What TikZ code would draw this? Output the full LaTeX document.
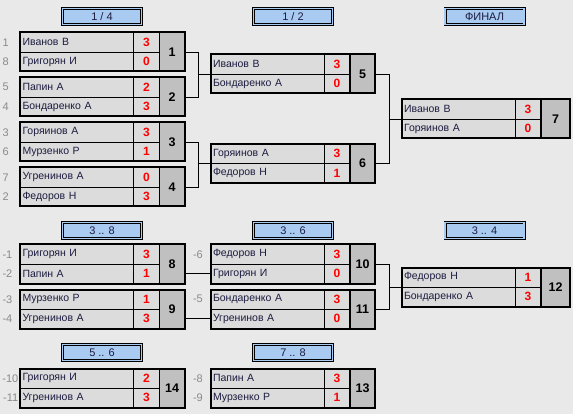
\documentclass[tikz,border=0pt]{standalone}
\usepackage{fontspec}
\setmainfont{Liberation Sans}
\usetikzlibrary{positioning}

\definecolor{bggray}{HTML}{E9E9E9}
\definecolor{cellgray}{HTML}{DCDCDC}
\definecolor{numgray}{HTML}{C0C0C0}
\definecolor{headblue}{HTML}{A9CBF1}
\definecolor{namefg}{HTML}{1C1C40}
\definecolor{seedfg}{HTML}{8A8A8A}

% one match: [number cell width] id, x, y, player 1, score 1, player 2, score 2, match no.
\newcommand{\matchbox}[9][25]{%
  \node[namecell] (#2a) at (#3,#4) {#5};
  \node[scorecell] (#2as) at (#2a.north east) {#6};
  \node[namecell] (#2b) at (#2a.south west) {#7};
  \node[scorecell] (#2bs) at (#2b.north east) {#8};
  \node[numcell, minimum width=#1pt] (#2n) at (#2as.north east) {#9};
  \draw[line width=2pt] (#2a.north west) rectangle (#2n.south east);
}

\begin{document}
\begin{tikzpicture}[
  x=1pt, y=-1pt,
  font=\fontsize{10.5pt}{12pt}\selectfont,
  namecell/.style = {draw, line width=0.6pt, fill=cellgray, anchor=north west,
                     outer sep=0pt, inner sep=2.5pt, text width=108.5pt, align=left,
                     minimum height=19.5pt, text=namefg},
  scorecell/.style = {draw, line width=0.6pt, fill=cellgray, anchor=north west,
                      outer sep=0pt, inner sep=0pt, minimum width=26pt,
                      minimum height=19.5pt, text=red, font=\fontsize{12pt}{13pt}\selectfont\bfseries},
  numcell/.style = {draw, line width=1.6pt, fill=numgray, anchor=north west,
                    outer sep=0pt, inner sep=0pt, minimum height=39pt,
                    font=\fontsize{12.5pt}{14pt}\selectfont\bfseries},
  header/.style = {draw, line width=0.8pt, double=headblue, double distance=1.4pt,
                   fill=headblue, minimum width=79pt, minimum height=16pt,
                   inner sep=0pt, text=namefg, font=\fontsize{11pt}{12pt}\selectfont},
  seed/.style = {text=seedfg, inner sep=0pt, font=\fontsize{11pt}{12pt}\selectfont},
  wire/.style = {line width=0.8pt}
]

\path[use as bounding box, fill=bggray] (0,0) rectangle (573,414);

% Headers
\node[header] (h14) at (102,16.5) {1 / 4};
\node[header] (h12) at (293,16.5) {1 / 2};
\node[header] (hfin) at (484.5,16.5) {ФИНАЛ};
\node[header] (h38) at (102,230.5) {3 .. 8};
\node[header] (h36) at (293,230.5) {3 .. 6};
\node[header] (h34) at (484.5,230.5) {3 .. 4};
\node[header] (h56) at (102,352.5) {5 .. 6};
\node[header] (h78) at (293,352.5) {7 .. 8};

% Main bracket
\matchbox{m1}{20}{32.5}{Иванов В}{3}{Григорян И}{0}{1}
\matchbox{m2}{20}{77.5}{Папин А}{2}{Бондаренко А}{3}{2}
\matchbox{m3}{20}{122.5}{Горяинов А}{3}{Мурзенко Р}{1}{3}
\matchbox{m4}{20}{167.5}{Угренинов А}{0}{Федоров Н}{3}{4}
\matchbox{m5}{210.5}{54.5}{Иванов В}{3}{Бондаренко А}{0}{5}
\matchbox{m6}{210.5}{144}{Горяинов А}{3}{Федоров Н}{1}{6}
\matchbox[29]{m7}{401.5}{99.5}{Иванов В}{3}{Горяинов А}{0}{7}

% Places 3..8
\matchbox{m8}{20}{244.5}{Григорян И}{3}{Папин А}{1}{8}
\matchbox{m9}{20}{289.5}{Мурзенко Р}{1}{Угренинов А}{3}{9}
\matchbox{m10}{210.5}{244.5}{Федоров Н}{3}{Григорян И}{0}{10}
\matchbox{m11}{210.5}{289.5}{Бондаренко А}{3}{Угренинов А}{0}{11}
\matchbox[29]{m12}{401.5}{267.5}{Федоров Н}{1}{Бондаренко А}{3}{12}
\matchbox{m14}{20}{368.5}{Григорян И}{2}{Угренинов А}{3}{14}
\matchbox{m13}{210.5}{368.5}{Папин А}{3}{Мурзенко Р}{1}{13}

% Seeds
\node[seed, left=11pt of m1a] {1};
\node[seed, left=11pt of m1b] {8};
\node[seed, left=11pt of m2a] {5};
\node[seed, left=11pt of m2b] {4};
\node[seed, left=11pt of m3a] {3};
\node[seed, left=11pt of m3b] {6};
\node[seed, left=11pt of m4a] {7};
\node[seed, left=11pt of m4b] {2};
\node[seed, left=7.5pt of m8a] {-1};
\node[seed, left=7.5pt of m8b] {-2};
\node[seed, left=7.5pt of m9a] {-3};
\node[seed, left=7.5pt of m9b] {-4};
\node[seed, left=7.5pt of m10a] {-6};
\node[seed, left=7.5pt of m11a] {-5};
\node[seed, left=1.5pt of m14a] {-10};
\node[seed, left=1.5pt of m14b] {-11};
\node[seed, left=7.5pt of m13a] {-8};
\node[seed, left=7.5pt of m13b] {-9};

% Connectors
\draw[wire] (m1n.east) -- ++(14,0) |- (m2n.east);
\draw[wire] (m5a.south west) -- ++(-12,0);
\draw[wire] (m3n.east) -- ++(14,0) |- (m4n.east);
\draw[wire] (m6a.south west) -- ++(-12,0);
\draw[wire] (m5n.east) -- ++(14,0) |- (m6n.east);
\draw[wire] (m7a.south west) -- ++(-12,0);

\draw[wire] (m10b.west) -- (m10b.west -| m8n.east);
\draw[wire] (m11b.west) -- (m11b.west -| m9n.east);
\draw[wire] (m10n.east) -- ++(14,0) |- (m11n.east);
\draw[wire] (m12a.south west) -- ++(-12,0);

\end{tikzpicture}
\end{document}
